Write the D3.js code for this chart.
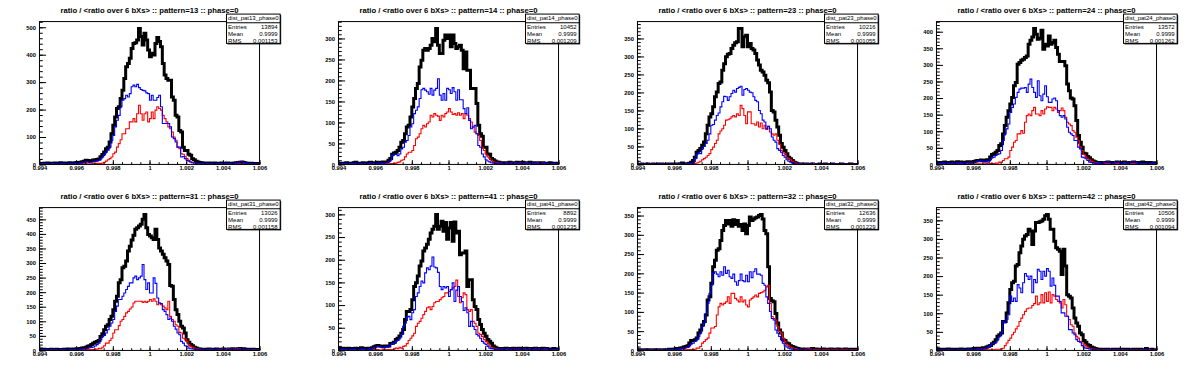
<!DOCTYPE html>
<html>
<head>
<meta charset="utf-8">
<script src="https://cdn.jsdelivr.net/npm/d3@7"></script>
<style>
  body { margin: 0; background: #fff; }
  svg { display: block; }
  text { font-family: "Liberation Sans", Arial, Helvetica, sans-serif; }
</style>
</head>
<body>
<div id="canvas"></div>
<script>
// histogram range: 120 bins from 0.994 to 1.006
var xMin = 0.994, xMax = 1.006, nBins = 120;
var xTickValues = [0.994, 0.996, 0.998, 1.000, 1.002, 1.004, 1.006];
var xTickLabels = ["0.994", "0.996", "0.998", "1", "1.002", "1.004", "1.006"];

// panel order on the canvas (row by row)
var patterns = ["13", "14", "23", "24", "31", "41", "32", "42"];
var entries  = ["13894", "10452", "10216", "13572", "13026", "8892", "12636", "10506"];
var means    = ["0.9999", "0.9999", "0.9999", "0.9999", "0.9999", "0.9999", "0.9999", "0.9999"];
var rmss     = ["0.001153", "0.001209", "0.001055", "0.001262", "0.001158", "0.001235", "0.001229", "0.001094"];

var yTicks13 = [0, 100, 200, 300, 400, 500];
var yTicks14 = [0, 50, 100, 150, 200, 250, 300];
var yTicks23 = [0, 50, 100, 150, 200, 250, 300, 350];
var yTicks24 = [0, 50, 100, 150, 200, 250, 300, 350, 400];
var yTicks31 = [0, 50, 100, 150, 200, 250, 300, 350, 400, 450];
var yTicks41 = [0, 50, 100, 150, 200, 250, 300];
var yTicks32 = [0, 50, 100, 150, 200, 250, 300, 350];
var yTicks42 = [0, 50, 100, 150, 200, 250, 300, 350];

// ---- pattern 13 ----
var all13 = [3,2,4,3,5,3,4,2,5,4,3,6,4,5,3,4,6,5,4,6,
  7,6,8,10,12,15,14,12,13,16, 17,18,20,28,36,45,57,63,82,112,
  143,173,204,210,240,270,313,356,368,387, 423,441,444,454,496,466,435,478,454,417,
  393,405,399,441,463,448,429,368,326,313, 307,307,246,234,179,173,124,118,63,51,
  51,37,33,21,17,12,9,7,6,5, 5,4,5,3,4,5,3,4,3,5,
  4,3,5,4,3,4,5,6,7,8, 9,7,5,4,3,4,3,2,3,2];
var blue13 = [2,1,3,2,3,2,3,1,3,2,2,4,3,3,2,3,4,3,3,4,
  4,4,5,6,8,10,9,8,9,10, 11,12,15,20,27,35,45,52,63,88,
  106,137,161,179,210,234,240,252,246,258, 283,289,283,292,280,273,270,268,261,258,
  234,252,234,234,244,252,210,149,149,149, 149,137,100,94,82,63,63,27,29,21,
  15,12,9,6,5,4,3,3,4,3, 3,2,3,2,3,3,2,3,2,3,
  2,3,3,2,3,3,4,5,7,10, 9,6,4,3,2,3,2,1,2,1];
var red13 = [1,1,0,1,1,0,1,1,0,1,1,0,1,1,1,0,1,1,0,1,
  1,1,2,1,2,2,1,2,2,3, 3,4,4,3,5,8,12,17,21,27,
  39,45,63,76,90,112,112,130,130,155, 155,167,155,185,216,185,161,185,191,155,
  167,191,167,198,210,204,198,179,167,155, 137,130,118,100,88,63,57,39,37,29,
  21,15,9,6,5,4,3,3,2,2, 2,1,2,2,1,2,1,2,2,1,
  2,1,2,1,2,1,2,2,1,2, 1,2,1,1,0,1,1,0,1,0];

// ---- pattern 14 ----
var all14 = [3,2,3,2,4,3,2,3,4,5,3,2,3,4,2,3,4,5,4,3,
  4,5,4,5,6,5,6,10,14,24, 27,29,33,41,53,57,73,89,93,113,
  137,157,181,193,232,248,272,276,272,276, 284,300,292,324,284,264,264,296,308,300,
  308,280,308,288,276,280,284,272,228,268, 224,224,181,181,181,145,93,73,67,41,
  41,25,24,14,11,8,6,5,4,4, 3,4,3,5,4,3,4,5,4,3,
  5,4,3,4,5,4,3,4,3,4, 3,4,3,2,3,4,3,2,3,2];
var blue14 = [1,2,1,2,2,1,2,1,2,3,2,1,2,2,1,2,2,3,2,2,
  2,3,2,3,3,4,4,6,10,21, 24,24,21,25,37,41,53,57,69,89,
  97,121,129,137,157,178,181,177,173,167, 181,165,177,181,204,165,153,169,153,181,
  178,169,183,173,153,178,154,154,133,121, 135,105,85,89,93,73,45,41,25,18,
  11,8,6,4,3,3,2,2,3,2, 2,2,3,2,2,3,2,2,3,2,
  2,3,2,2,3,2,2,3,2,2, 2,2,3,2,1,2,2,1,2,1];
var red14 = [0,1,0,1,0,1,1,0,1,1,0,1,0,1,1,0,1,1,0,1,
  1,1,0,1,1,2,1,1,2,2, 2,3,5,6,10,11,18,25,29,29,
  33,45,61,65,73,85,93,89,97,101, 117,113,121,117,115,105,117,113,121,125,
  133,125,119,121,117,123,117,121,109,121, 117,109,101,89,77,73,69,57,41,33,
  25,18,14,10,6,5,4,3,3,2, 2,3,2,2,3,2,3,2,2,3,
  2,2,3,2,2,3,2,2,3,2, 2,3,2,2,1,2,1,2,1,1];

// ---- pattern 23 ----
var all23 = [0,0,1,0,0,1,0,0,1,0,0,1,0,1,0,0,1,0,1,1,
  1,0,1,2,4,1,2,2,3,6, 11,20,34,39,44,53,62,85,109,132,
  141,160,188,201,225,229,262,280,299,306, 308,322,331,338,341,378,378,327,355,359,
  327,336,322,318,308,290,276,262,257,248, 234,227,201,150,146,123,104,81,58,48,
  39,30,20,16,11,6,4,2,1,1, 1,0,1,0,0,1,0,0,0,1,
  0,0,1,0,0,0,1,0,0,0, 0,1,0,0,0,0,1,0,0,0];
var blue23 = [0,0,0,1,0,0,0,1,0,0,0,0,1,0,0,0,0,1,0,0,
  0,1,0,0,1,1,1,2,2,3, 4,16,28,32,30,44,50,58,67,85,
  109,111,123,136,143,160,174,189,188,178, 188,197,206,201,211,214,217,192,208,211,
  206,201,199,188,178,174,150,141,123,118, 99,106,99,76,67,62,44,39,34,25,
  20,13,9,6,4,3,2,1,1,0, 1,0,0,1,0,0,0,1,0,0,
  0,0,1,0,0,0,0,1,0,0, 0,0,0,1,0,0,0,0,1,0];
var red23 = [0,0,0,0,0,0,0,0,0,0,0,0,0,0,0,0,0,0,0,0,
  0,0,0,0,0,0,0,1,1,1, 2,3,4,6,9,13,16,20,25,30,
  41,48,58,67,85,93,99,109,123,124, 127,132,136,132,141,136,164,155,136,113,
  146,146,113,113,109,118,104,115,99,109, 97,106,90,85,81,85,67,56,39,32,
  30,20,16,13,9,6,4,2,1,1, 0,1,0,0,0,0,1,0,0,0,
  0,0,0,0,0,0,0,0,0,0, 0,0,0,0,0,0,0,0,0,0];

// ---- pattern 24 ----
var all24 = [5,4,6,5,7,5,6,4,7,6,5,8,6,7,5,6,7,8,6,7,
  9,10,12,11,13,12,10,14,14,22, 30,32,37,42,57,62,92,117,142,162,
  182,202,237,247,302,307,314,317,322,327, 362,374,384,410,392,377,380,404,347,362,
  357,387,362,367,374,352,332,310,310,310, 297,242,222,200,197,177,132,87,67,52,
  34,32,24,20,14,10,8,6,5,6, 5,4,6,7,5,6,4,5,7,6,
  5,6,7,5,4,6,5,7,6,5, 6,5,7,6,5,4,6,5,4,5];
var blue24 = [3,2,4,3,5,3,4,2,5,4,3,6,4,5,3,4,5,6,4,5,
  7,8,10,9,11,10,8,10,7,14, 20,22,27,30,32,42,72,92,107,122,
  157,172,182,202,217,227,230,230,232,217, 242,257,232,217,202,252,207,192,212,237,
  204,187,187,197,200,192,162,147,142,147, 137,112,97,92,87,72,72,52,47,22,
  20,17,12,7,6,5,4,4,3,4, 3,5,7,8,6,4,3,5,6,8,
  4,3,5,4,3,5,7,8,6,4, 3,4,3,2,3,2,3,4,3,2];
var red24 = [1,1,2,1,1,2,1,2,1,1,2,1,1,2,1,2,1,1,2,1,
  2,1,2,2,1,2,2,3,2,3, 3,3,4,4,7,7,12,17,17,22,
  42,52,67,72,92,92,102,94,127,147, 152,147,162,172,152,152,147,162,152,167,
  174,172,172,162,172,167,157,162,170,162, 142,127,122,117,102,97,82,72,52,42,
  30,22,17,14,10,8,6,5,4,3, 3,4,3,2,4,3,2,3,4,3,
  2,3,4,3,2,3,4,3,2,3, 3,2,3,2,2,3,2,1,2,2];

// ---- pattern 31 ----
var all31 = [3,2,4,3,2,3,4,3,2,4,3,2,3,4,3,5,4,3,5,4,
  6,5,7,8,9,11,14,16,20,25, 28,31,34,48,57,71,83,88,106,117,
  140,169,186,232,243,284,289,307,341,358, 379,395,416,421,427,433,450,467,421,398,
  393,387,381,416,381,352,341,330,318,307, 295,223,220,175,140,123,100,83,77,60,
  37,28,20,16,11,8,6,5,4,4, 3,4,5,3,4,3,5,4,3,4,
  5,4,3,5,4,6,5,4,6,7, 5,6,4,3,4,3,4,2,3,2];
var blue31 = [2,1,3,2,1,2,3,2,1,3,2,1,2,3,2,3,2,2,3,2,
  3,3,4,5,6,7,8,9,10,12, 15,20,25,37,48,51,60,71,83,94,
  106,134,152,175,175,186,197,209,220,232, 232,249,255,243,249,255,295,243,209,232,
  197,197,249,230,180,163,161,140,134,123, 106,111,100,83,73,60,54,31,25,16,
  14,8,6,5,4,3,3,2,3,2, 2,3,2,2,3,2,3,2,2,3,
  3,2,2,3,2,3,2,3,4,3, 3,2,3,2,1,2,2,1,2,1];
var red31 = [1,0,1,1,0,1,1,0,1,1,0,1,1,1,0,1,1,2,1,1,
  2,1,2,1,2,2,3,2,3,3, 5,4,7,6,11,16,25,25,34,42,
  60,71,71,85,100,106,117,129,134,142, 149,163,169,169,169,169,165,169,165,169,
  175,169,177,169,157,163,157,152,146,140, 169,117,106,100,88,83,62,60,42,39,
  31,20,14,11,8,6,5,4,3,4, 3,2,3,4,3,2,3,4,3,5,
  4,3,5,4,3,5,4,5,6,5, 4,3,2,3,2,2,3,2,1,2];

// ---- pattern 41 ----
var all41 = [4,3,5,4,3,5,4,3,4,5,3,4,6,5,4,3,5,4,6,8,
  10,11,10,9,8,10,9,10,15,16, 18,24,27,32,38,46,68,86,86,90,
  112,141,149,164,186,197,219,226,234,245, 259,267,274,300,267,274,285,263,282,245,
  270,282,241,283,259,263,211,215,215,219, 141,156,156,112,97,90,68,57,46,38,
  31,24,20,16,10,7,5,4,3,4, 3,5,4,3,4,5,3,4,5,4,
  3,4,5,4,3,4,3,5,4,3, 4,5,3,4,3,2,3,4,2,3];
var blue41 = [2,1,3,2,1,3,2,2,3,2,1,2,3,2,3,2,3,2,4,6,
  8,9,8,7,6,8,7,8,13,15, 16,20,22,27,35,53,60,74,75,68,
  83,90,119,127,141,153,149,171,182,178, 186,206,184,182,172,141,134,141,138,141,
  119,134,149,108,133,141,119,108,88,94, 83,53,64,53,46,35,32,27,20,16,
  13,9,5,4,3,2,3,2,2,3, 2,3,2,2,3,2,2,3,2,2,
  2,3,2,2,3,2,2,3,2,2, 3,2,2,3,2,1,2,2,1,2];
var red41 = [1,1,1,1,1,1,1,1,1,2,1,1,1,2,1,1,1,1,1,2,
  1,2,1,1,2,1,2,2,2,2, 3,5,4,7,5,9,10,15,22,27,
  32,38,53,60,64,71,79,86,94,96, 90,97,105,108,108,112,116,119,127,127,
  130,134,138,141,155,119,105,116,127,123, 90,86,90,64,60,53,38,35,31,24,
  20,15,10,7,5,4,3,3,2,3, 2,2,3,2,2,3,2,2,3,2,
  2,3,2,2,3,2,2,3,2,3, 2,2,3,2,2,1,2,1,2,1];

// ---- pattern 32 ----
var all32 = [1,2,1,1,2,1,2,1,1,2,1,2,1,1,2,1,2,3,2,3,
  4,5,5,6,7,9,10,12,19,26, 26,28,32,45,53,66,75,92,131,139,
  174,217,234,260,264,285,311,324,337,328, 337,322,339,327,337,322,327,311,328,303,
  324,346,337,341,344,346,350,353,341,311, 303,217,135,129,126,96,71,53,45,28,
  26,19,17,12,10,8,6,5,4,3, 4,3,2,4,3,5,3,4,3,2,
  3,4,3,2,3,4,3,2,3,4, 3,2,3,4,2,3,2,3,2,3];
var blue32 = [1,1,0,1,1,0,1,1,1,0,1,1,1,1,0,1,1,2,1,2,
  3,3,4,4,5,6,7,8,12,17, 19,23,28,36,45,62,71,96,122,148,
  169,200,204,198,191,204,195,217,200,208, 191,187,198,178,169,181,198,181,178,195,
  178,204,189,204,212,198,198,195,174,169, 139,122,101,83,79,53,45,36,28,19,
  12,9,6,4,3,2,2,1,2,1, 1,1,2,1,1,1,0,1,1,1,
  1,0,1,1,1,0,1,1,0,1, 1,1,0,1,0,1,1,0,1,0];
var red32 = [0,0,0,0,0,0,0,1,0,0,0,1,0,0,0,1,0,0,1,0,
  1,0,1,1,1,2,1,2,2,2, 2,3,6,6,10,19,23,28,32,45,
  58,58,62,92,113,122,118,122,126,139, 122,148,148,135,131,126,139,126,131,118,
  113,131,135,139,144,139,148,150,152,156, 165,169,122,88,83,79,62,49,45,32,
  23,15,12,9,7,5,4,3,3,2, 3,2,3,4,3,2,3,2,3,2,
  3,2,2,3,2,3,2,2,3,2, 2,3,2,2,3,2,2,1,2,2];

// ---- pattern 42 ----
var all42 = [2,3,2,3,2,3,4,2,3,2,3,2,3,4,3,2,3,4,3,4,
  5,4,6,5,6,7,6,9,11,13, 18,22,29,38,42,47,78,78,101,128,
  164,182,186,227,231,263,281,299,308,312, 326,321,285,321,344,344,346,348,353,362,
  366,353,326,326,294,276,272,267,204,272, 227,150,146,141,114,87,74,65,47,42,
  27,22,15,13,9,7,5,4,3,3, 2,3,2,3,2,2,3,2,3,2,
  3,2,3,2,3,2,2,3,2,3, 2,3,2,2,5,2,2,3,2,2];
var blue42 = [1,2,1,2,1,2,2,1,2,1,2,1,2,2,1,2,2,3,2,3,
  4,3,5,4,5,6,5,7,9,13, 18,20,22,29,38,47,78,74,83,96,
  146,132,141,132,177,168,155,182,207,200, 191,200,155,191,182,218,213,191,213,200,
  220,213,173,195,175,146,146,132,101,101, 92,92,56,56,47,42,29,24,22,13,
  9,6,5,4,3,2,2,1,2,1, 1,1,2,1,1,2,1,1,1,2,
  1,1,2,1,1,1,2,1,1,1, 2,1,1,1,4,1,1,0,1,1];
var red42 = [0,0,1,0,0,0,1,0,0,0,1,0,0,0,1,0,0,1,0,0,
  1,0,1,1,1,1,1,2,2,2, 2,2,3,3,3,4,6,13,20,27,
  33,42,49,58,65,78,87,96,105,112, 114,114,121,126,146,123,128,150,128,155,
  132,157,128,150,146,137,132,128,114,137, 123,92,83,69,65,47,38,33,24,20,
  15,13,9,6,5,4,3,3,2,2, 2,2,1,2,2,1,2,1,2,2,
  1,2,2,1,2,1,2,1,1,2, 1,2,1,1,1,1,2,1,1,1];

var panels = [
  { all: all13, blue: blue13, red: red13, yTicks: yTicks13 },
  { all: all14, blue: blue14, red: red14, yTicks: yTicks14 },
  { all: all23, blue: blue23, red: red23, yTicks: yTicks23 },
  { all: all24, blue: blue24, red: red24, yTicks: yTicks24 },
  { all: all31, blue: blue31, red: red31, yTicks: yTicks31 },
  { all: all41, blue: blue41, red: red41, yTicks: yTicks41 },
  { all: all32, blue: blue32, red: red32, yTicks: yTicks32 },
  { all: all42, blue: blue42, red: red42, yTicks: yTicks42 }
];

var W = 1196, H = 372;
var binW = (xMax - xMin) / nBins;

var svg = d3.select("#canvas").append("svg")
    .attr("width", W)
    .attr("height", H);

panels.forEach(function (p, k) {
    var col = k % 4, row = Math.floor(k / 4);

    // pad and frame, like a TCanvas divided 4x2
    var padX = (0.01 + 0.25 * col) * W, padW = 0.23 * W;
    var padY = (0.01 + 0.5 * row) * H, padH = 0.48 * H;
    var fx0 = padX + 0.1 * padW, fx1 = padX + 0.9 * padW;
    var fy0 = padY + 0.1 * padH, fy1 = padY + 0.9 * padH;

    var x = d3.scaleLinear().domain([xMin, xMax]).range([fx0, fx1]);
    var y = d3.scaleLinear().domain([0, 1.05 * d3.max(p.all)]).range([fy1, fy0]);

    var g = svg.append("g");

    // clip the histograms to the frame
    var clipId = "clip" + k;
    g.append("clipPath").attr("id", clipId)
      .append("rect")
        .attr("x", fx0).attr("y", fy0)
        .attr("width", fx1 - fx0).attr("height", fy1 - fy0);

    // step lines
    var line = d3.line()
        .x(function (d) { return x(d[0]); })
        .y(function (d) { return y(d[1]); })
        .curve(d3.curveStepAfter);

    function steps(vals) {
        var pts = vals.map(function (v, i) { return [xMin + i * binW, v]; });
        pts.push([xMax, vals[vals.length - 1]]);
        return pts;
    }

    var hists = g.append("g").attr("clip-path", "url(#" + clipId + ")");
    hists.append("path").attr("d", line(steps(p.all)))
        .attr("fill", "none").attr("stroke", "#000").attr("stroke-width", 3);
    hists.append("path").attr("d", line(steps(p.red)))
        .attr("fill", "none").attr("stroke", "#ff0000").attr("stroke-width", 1.1);
    hists.append("path").attr("d", line(steps(p.blue)))
        .attr("fill", "none").attr("stroke", "#0000ff").attr("stroke-width", 1.1);

    // x axis (ticks point into the frame)
    var xMinor = d3.range(0, 25).map(function (i) { return xMin + i * 0.0005; });
    g.append("g").attr("transform", "translate(0," + fy1 + ")")
        .call(d3.axisBottom(x).tickValues(xMinor).tickSize(-2.2).tickFormat(""))
        .call(function (s) { s.select(".domain").remove(); });
    var xAxis = g.append("g").attr("transform", "translate(0," + fy1 + ")")
        .call(d3.axisBottom(x).tickValues(xTickValues).tickSize(-4.3).tickPadding(1.5)
            .tickFormat(function (d, i) { return xTickLabels[i]; }));
    xAxis.select(".domain").remove();

    // y axis
    var yStep = p.yTicks[1] - p.yTicks[0];
    var yMinor = d3.range(0, Math.floor(y.domain()[1] / (yStep / 5)) + 1)
        .map(function (i) { return i * yStep / 5; });
    g.append("g").attr("transform", "translate(" + fx0 + ",0)")
        .call(d3.axisLeft(y).tickValues(yMinor).tickSize(-3.3).tickFormat(""))
        .call(function (s) { s.select(".domain").remove(); });
    var yAxis = g.append("g").attr("transform", "translate(" + fx0 + ",0)")
        .call(d3.axisLeft(y).tickValues(p.yTicks).tickSize(-6.6).tickPadding(3.5));
    yAxis.select(".domain").remove();

    [xAxis, yAxis].forEach(function (a) {
        a.selectAll("text").attr("font-size", 5.8).attr("fill", "#000")
            .attr("font-weight", "bold")
            .attr("font-family", "Liberation Sans, Arial, sans-serif");
    });
    g.selectAll(".tick line").attr("stroke", "#000").attr("stroke-width", 1);

    // frame
    g.append("rect")
        .attr("x", fx0).attr("y", fy0)
        .attr("width", fx1 - fx0).attr("height", fy1 - fy0)
        .attr("fill", "none").attr("stroke", "#000").attr("stroke-width", 1);

    // title
    g.append("text")
        .attr("x", padX + padW / 2)
        .attr("y", padY + 9)
        .attr("text-anchor", "middle")
        .attr("font-size", 8)
        .attr("font-weight", "bold")
        .attr("textLength", 178)
        .attr("lengthAdjust", "spacingAndGlyphs")
        .text("ratio / <ratio over 6 bXs> :: pattern=" + patterns[k] + " :: phase=0");

    // stats box
    var sx0 = padX + 0.78 * padW, sx1 = padX + 0.975 * padW;
    var sy0 = padY + 0.058 * padH, sy1 = sy0 + 29.3;
    var stats = g.append("g");
    stats.append("rect")
        .attr("x", sx0 + 1).attr("y", sy0 + 1)
        .attr("width", sx1 - sx0).attr("height", sy1 - sy0)
        .attr("fill", "#000");
    stats.append("rect")
        .attr("x", sx0).attr("y", sy0)
        .attr("width", sx1 - sx0).attr("height", sy1 - sy0)
        .attr("fill", "#fff").attr("stroke", "#000").attr("stroke-width", 1);
    stats.append("line")
        .attr("x1", sx0).attr("x2", sx1)
        .attr("y1", sy0 + 8.7).attr("y2", sy0 + 8.7)
        .attr("stroke", "#000").attr("stroke-width", 1);
    stats.append("text")
        .attr("x", (sx0 + sx1) / 2).attr("y", sy0 + 6)
        .attr("text-anchor", "middle").attr("font-size", 6)
        .text("dist_pat" + patterns[k] + "_phase0");

    var rows = [["Entries", entries[k]], ["Mean", means[k]], ["RMS", rmss[k]]];
    rows.forEach(function (r, i) {
        var ty = sy0 + 14.9 + i * 6.8;
        stats.append("text").attr("x", sx0 + 1.6).attr("y", ty)
            .attr("font-size", 6).text(r[0]);
        stats.append("text").attr("x", sx1 - 2.5).attr("y", ty)
            .attr("text-anchor", "end").attr("font-size", 6).text(r[1]);
    });
});
</script>
</body>
</html>
